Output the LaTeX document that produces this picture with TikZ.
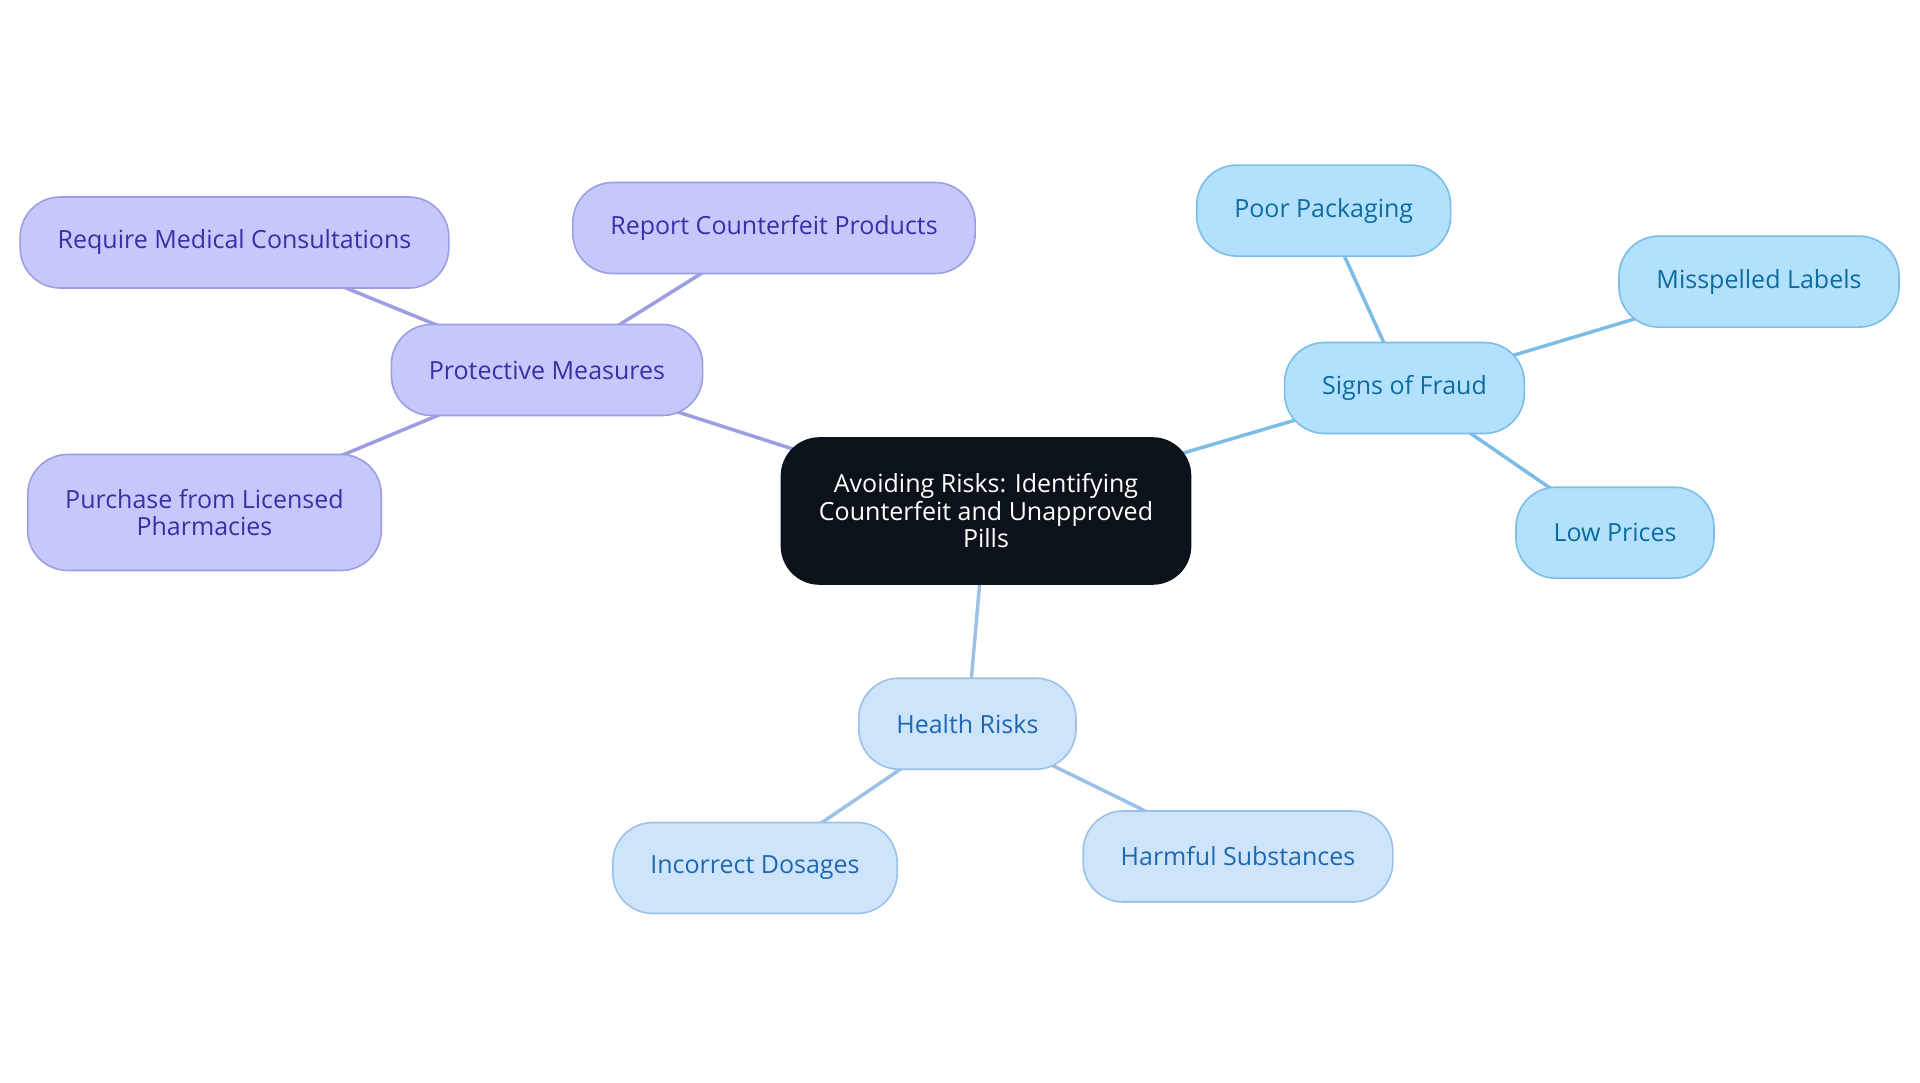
\documentclass[tikz,border=0pt]{standalone}
\usepackage{fontspec}
\setmainfont{Open Sans}
\usetikzlibrary{backgrounds}
\definecolor{rootfill}{HTML}{0C121A}
\definecolor{protfill}{HTML}{C6C8FC}
\definecolor{protline}{HTML}{9C9EE2}
\definecolor{prottext}{HTML}{3A2FA6}
\definecolor{fraudfill}{HTML}{B3E0FD}
\definecolor{fraudline}{HTML}{7BBDE6}
\definecolor{fraudtext}{HTML}{0D6C9E}
\definecolor{healthfill}{HTML}{CDE4FB}
\definecolor{healthline}{HTML}{9CC1E8}
\definecolor{healthtext}{HTML}{1E68B3}
\tikzset{%
  box/.style={rounded corners=40pt, line width=1.6pt, inner xsep=37.5pt,
    minimum height=91pt, align=center, font=\fontsize{25}{27.5}\selectfont},
  rootbox/.style={box, fill=rootfill, draw=rootfill, text=white, rounded corners=38pt,
    minimum width=405pt, minimum height=146pt},
  protbox/.style={box, fill=protfill, draw=protline, text=prottext},
  fraudbox/.style={box, fill=fraudfill, draw=fraudline, text=fraudtext},
  healthbox/.style={box, fill=healthfill, draw=healthline, text=healthtext},
  protlink/.style={draw=protline, line width=3.5pt},
  fraudlink/.style={draw=fraudline, line width=3.5pt},
  healthlink/.style={draw=healthline, line width=3.5pt}
}

\begin{document}
\begin{tikzpicture}[x=1pt,y=-1pt]
\useasboundingbox (0,0) rectangle (1920,1083);
\node[rootbox] (root) at (986,511) {Avoiding Risks: Identifying\\Counterfeit and Unapproved\\Pills};
% protective measures
\node[protbox] (prot) at (547,370) {Protective Measures};
\node[protbox] (consult) at (234.5,242.5) {Require Medical Consultations};
\node[protbox] (report) at (774,228) {Report Counterfeit Products};
\node[protbox, minimum height=116pt] (licensed) at (204.5,512.5) {Purchase from Licensed\\Pharmacies};
% signs of fraud
\node[fraudbox] (fraud) at (1404.5,388) {Signs of Fraud};
\node[fraudbox] (packaging) at (1323.7,210.6) {Poor Packaging};
\node[fraudbox] (labels) at (1759,281.6) {Misspelled Labels};
\node[fraudbox] (prices) at (1615,532.7) {Low Prices};
% health risks
\node[healthbox] (health) at (967.4,723.7) {Health Risks};
\node[healthbox] (dosages) at (755,868) {Incorrect Dosages};
\node[healthbox] (harmful) at (1238,856.5) {Harmful Substances};
\begin{scope}[on background layer]
\draw[protlink] (root.center) -- (prot.center);
\draw[protlink] (prot.center) -- (consult.center);
\draw[protlink] (prot.center) -- (report.center);
\draw[protlink] (prot.center) -- (licensed.center);
\draw[fraudlink] (root.center) -- (fraud.center);
\draw[fraudlink] (fraud.center) -- (packaging.center);
\draw[fraudlink] (fraud.center) -- (labels.center);
\draw[fraudlink] (fraud.center) -- (prices.center);
\draw[healthlink] (root.center) -- (health.center);
\draw[healthlink] (health.center) -- (dosages.center);
\draw[healthlink] (health.center) -- (harmful.center);
\end{scope}
\end{tikzpicture}
\end{document}
